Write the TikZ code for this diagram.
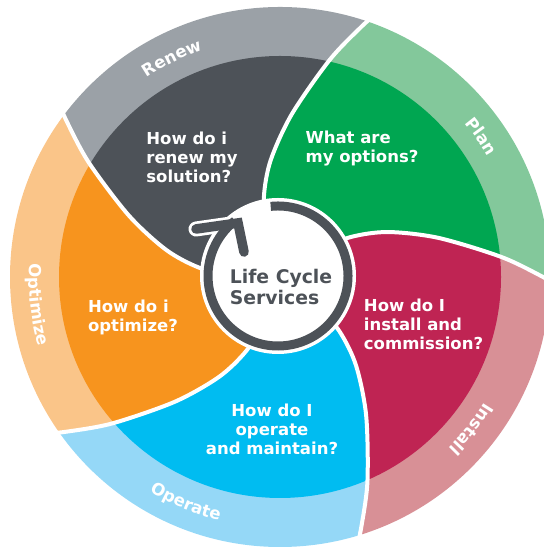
\documentclass[tikz,border=0pt]{standalone}
\usepackage{fontspec}
\setmainfont{DejaVu Sans}
\usetikzlibrary{decorations.text}
\definecolor{renewL}{HTML}{9BA1A7}
\definecolor{renewD}{HTML}{4D5258}
\definecolor{planL}{HTML}{83C89B}
\definecolor{planD}{HTML}{00A651}
\definecolor{installL}{HTML}{D89096}
\definecolor{installD}{HTML}{BF2453}
\definecolor{operateL}{HTML}{95D8F7}
\definecolor{operateD}{HTML}{00BCF1}
\definecolor{optimizeL}{HTML}{FAC589}
\definecolor{optimizeD}{HTML}{F7941E}
\definecolor{ringc}{HTML}{4D5258}
\newcommand\lblfont{\bfseries\fontsize{8.3pt}{10pt}\selectfont}
\tikzset{
  spo/.style={insert path={-- plot[smooth] coordinates {({38+#1}:40) ({29.5+#1}:81) ({22.6+#1}:117) ({13.9+#1}:163) ({5.2+#1}:222) ({#1}:263) ({-4+#1}:300)}}},
  spr/.style={insert path={-- plot[smooth] coordinates {({-4+#1}:300) ({#1}:263) ({5.2+#1}:222) ({13.9+#1}:163) ({22.6+#1}:117) ({29.5+#1}:81) ({38+#1}:40)}}},
  sepline/.style={white, line width=2pt},
  qtext/.style={text=white, font=\bfseries\fontsize{8.25pt}{9.5pt}\selectfont, inner sep=0pt, align=left},
  ctext/.style={text=ringc, font=\bfseries\fontsize{9.4pt}{10.5pt}\selectfont, inner sep=0pt, align=left},
  lbl/.style={decorate, decoration={text along path, text={|\lblfont|#1}, text align=center, text color=white}},
  ringline/.style={draw=ringc, line width=4.5pt},
  chev/.style={line width=#1, line cap=round, line join=miter},
}
\begin{document}
\begin{tikzpicture}[x=0.5pt, y=0.5pt]
\useasboundingbox (0,0) rectangle (543,549);
\begin{scope}[shift={(280,272)}]
  % outer light ring
  \begin{scope}
    \clip (0,0) circle[radius=270];
    \foreach \a/\b/\cl in {72/0/planL, 0/288/installL, 288/216/operateL, 216/144/optimizeL, 144/72/renewL}
      \fill[\cl] (0,0) [spo=\a] -- ({\a-40}:420) [spr=\b] -- cycle;
  \end{scope}
  % inner dark sectors
  \begin{scope}
    \clip (0,0) circle[radius=221];
    \foreach \a/\b/\cd in {72/0/planD, 0/288/installD, 288/216/operateD, 216/144/optimizeD, 144/72/renewD}
      \fill[\cd] (0,0) [spo=\a] -- ({\a-40}:420) [spr=\b] -- cycle;
  \end{scope}
  % white separators
  \begin{scope}
    \clip (0,0) circle[radius=272];
    \foreach \a in {0,72,144,216,288}
      \draw[sepline] plot[smooth] coordinates {({38+\a}:40) ({29.5+\a}:81) ({22.6+\a}:117) ({13.9+\a}:163) ({5.2+\a}:222) ({\a}:263) ({-4+\a}:300)};
  \end{scope}
  % ring labels
  \path[lbl={Renew}] (0,0) ++(156.3:240) arc[start angle=156.3, end angle=76.3, radius=240];
  \path[lbl={Plan}] (0,0) ++(74.9:240) arc[start angle=74.9, end angle=-5.1, radius=240];
  \path[lbl={Install}] (0,0) ++(1.5:240) arc[start angle=1.5, end angle=-78.5, radius=240];
  \path[lbl={Operate}] (0,0) ++(-152.7:251) arc[start angle=-152.7, end angle=-72.7, radius=251];
  \path[lbl={Optimize}] (0,0) ++(146.5:251) arc[start angle=146.5, end angle=226.5, radius=251];
\end{scope}
% centre
\coordinate (cc) at (278,273);
\coordinate (chA) at (196,320);
\coordinate (chB) at (238,326);
\coordinate (chC) at (244,297);
\fill[white] (cc) circle[radius=78];
\draw[white, chev=7.5pt] (chA) -- (chB) -- (chC);
\draw[ringline] (cc) ++(96:70) arc[start angle=96, end angle=-232, radius=70];
\draw[ringc, chev=4.8pt] (chA) -- (chB) -- (chC);
\node[ctext] (center) at (281,262) {Life Cycle\\Services};
% questions
\node[qtext] (qrenew) at (192,392) {How do i\\renew my\\solution?};
\node[qtext] (qplan) at (362,400) {What are\\my options?};
\node[qtext] (qinstall) at (423.5,224.5) {How do I\\install and\\commission?};
\node[qtext, align=center] (qoperate) at (272,120) {How do I\\operate\\and maintain?};
\node[qtext] (qoptimize) at (133,232) {How do i\\optimize?};
\end{tikzpicture}
\end{document}
